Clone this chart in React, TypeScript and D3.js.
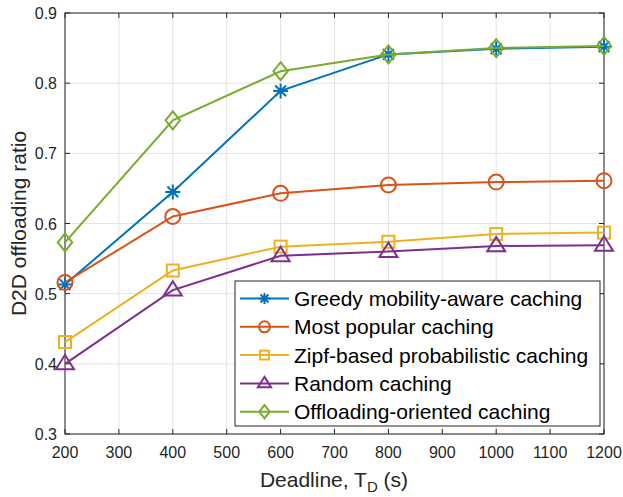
import * as d3 from "d3";

const deadlines = [200, 400, 600, 800, 1000, 1200];
const greedy = [0.513, 0.645, 0.789, 0.841, 0.849, 0.852];
const mostPopular = [0.516, 0.61, 0.643, 0.655, 0.659, 0.661];
const zipf = [0.431, 0.533, 0.567, 0.574, 0.585, 0.587];
const randomCaching = [0.4, 0.505, 0.554, 0.56, 0.568, 0.569];
const offloading = [0.573, 0.747, 0.817, 0.841, 0.85, 0.853];

const seriesNames = [
  "Greedy mobility-aware caching",
  "Most popular caching",
  "Zipf-based probabilistic caching",
  "Random caching",
  "Offloading-oriented caching",
];
const xTicks = [200, 300, 400, 500, 600, 700, 800, 900, 1000, 1100, 1200];
const yTicks = [0.3, 0.4, 0.5, 0.6, 0.7, 0.8, 0.9];

const colors = ["#0072BD", "#D95319", "#EDB120", "#7E2F8E", "#77AC30"];
const markers = ["star", "circle", "square", "triangle", "diamond"];
const allSeries = [greedy, mostPopular, zipf, randomCaching, offloading];

const W = 623, H = 497;
const left = 65, right = 604, top = 13, bottom = 434;
const font = "'Liberation Sans', Arial, Helvetica, sans-serif";
const axisColor = "#262626";

function Marker({ type, x, y, color, s }: { type: string; x: number; y: number; color: string; s: number }) {
  const common = { fill: "none", stroke: color, strokeWidth: 2 };
  if (type === "circle") return <circle cx={x} cy={y} r={s * 0.5} {...common} />;
  if (type === "square") return <rect x={x - s * 0.4} y={y - s * 0.4} width={s * 0.8} height={s * 0.8} {...common} />;
  if (type === "diamond") {
    const r = s * 0.6;
    return <path d={`M${x},${y - r}L${x + r * 0.8},${y}L${x},${y + r}L${x - r * 0.8},${y}Z`} {...common} />;
  }
  if (type === "triangle") {
    const r = s * 0.6;
    return <path d={`M${x},${y - r}L${x + r},${y + r * 0.6}L${x - r},${y + r * 0.6}Z`} {...common} />;
  }
  // asterisk
  const r = s * 0.5, d = r * 0.72;
  return (
    <path
      d={`M${x - r},${y}H${x + r}M${x},${y - r}V${y + r}M${x - d},${y - d}L${x + d},${y + d}M${x - d},${y + d}L${x + d},${y - d}`}
      {...common}
    />
  );
}

export default function App() {
  const x = d3.scaleLinear().domain([200, 1200]).range([left, right]);
  const y = d3.scaleLinear().domain([0.3, 0.9]).range([bottom, top]);
  const line = d3.line<number>().x((_, i) => x(deadlines[i])).y((d) => y(d));

  const legX = 235, legY = 281, legW = 365, legH = 145, rowH = 28.3;

  return (
    <svg width={W} height={H} style={{ position: "absolute", left: 0, top: 0, background: "#fff" }} fontFamily={font}>
      <rect x={0} y={0} width={W} height={H} fill="#fff" />
      {/* grid */}
      {xTicks.map((t) => (
        <line key={"gx" + t} x1={x(t)} x2={x(t)} y1={top} y2={bottom} stroke="#e3e3e3" strokeWidth={1} />
      ))}
      {yTicks.map((t) => (
        <line key={"gy" + t} x1={left} x2={right} y1={y(t)} y2={y(t)} stroke="#e3e3e3" strokeWidth={1} />
      ))}
      {/* ticks */}
      {xTicks.map((t) => (
        <g key={"tx" + t}>
          <line x1={x(t)} x2={x(t)} y1={bottom} y2={bottom - 5} stroke={axisColor} />
          <line x1={x(t)} x2={x(t)} y1={top} y2={top + 5} stroke={axisColor} />
          <text x={x(t)} y={458} textAnchor="middle" fontSize={16} fill={axisColor}>{t}</text>
        </g>
      ))}
      {yTicks.map((t) => (
        <g key={"ty" + t}>
          <line x1={left} x2={left + 5} y1={y(t)} y2={y(t)} stroke={axisColor} />
          <line x1={right} x2={right - 5} y1={y(t)} y2={y(t)} stroke={axisColor} />
          <text x={left - 8} y={y(t) + 6} textAnchor="end" fontSize={16} fill={axisColor}>{t.toFixed(1)}</text>
        </g>
      ))}
      <rect x={left} y={top} width={right - left} height={bottom - top} fill="none" stroke={axisColor} strokeWidth={1} />
      {/* series */}
      {allSeries.map((s, k) => (
        <g key={"s" + k}>
          <path d={line(s) || ""} fill="none" stroke={colors[k]} strokeWidth={2} />
          {s.map((v, i) => (
            <Marker key={i} type={markers[k]} x={x(deadlines[i])} y={y(v)} color={colors[k]} s={15} />
          ))}
        </g>
      ))}
      {/* legend */}
      <rect x={legX} y={legY} width={legW} height={legH} fill="#fff" stroke={axisColor} strokeWidth={1} />
      {seriesNames.map((n, k) => {
        const cy = legY + 17.5 + k * rowH;
        return (
          <g key={"l" + k}>
            <line x1={240} x2={289} y1={cy} y2={cy} stroke={colors[k]} strokeWidth={2} />
            <Marker type={markers[k]} x={264.5} y={cy} color={colors[k]} s={11} />
            <text x={294} y={cy + 7.5} fontSize={21} fill="#000">{n}</text>
          </g>
        );
      })}
      {/* axis titles */}
      <text x={334} y={487} textAnchor="middle" fontSize={21} fill={axisColor}>
        Deadline, T<tspan fontSize={15} dy={5}>D</tspan><tspan dy={-5}> (s)</tspan>
      </text>
      <text transform={`translate(26,${(top + bottom) / 2}) rotate(-90)`} textAnchor="middle" fontSize={21} fill={axisColor}>
        D2D offloading ratio
      </text>
    </svg>
  );
}
